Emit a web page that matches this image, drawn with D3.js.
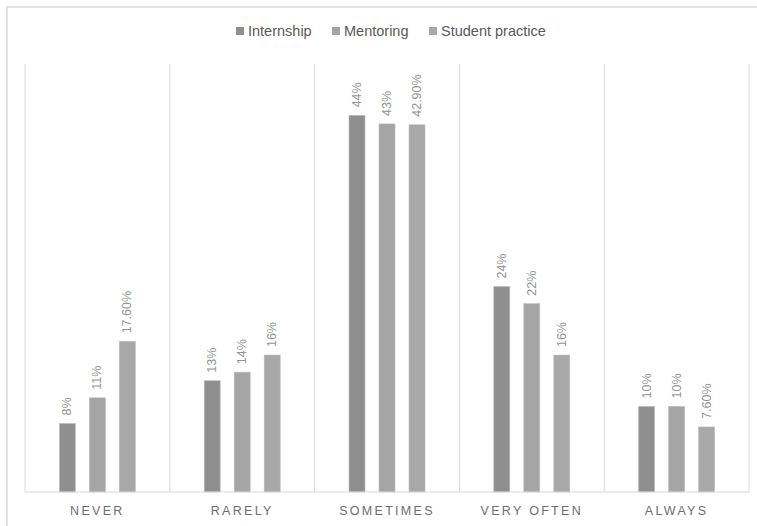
<!DOCTYPE html>
<html>
<head>
<meta charset="utf-8">
<script src="https://cdn.jsdelivr.net/npm/d3@7"></script>
<style>
  html, body { margin: 0; padding: 0; background: #fff; }
  svg { display: block; }
</style>
</head>
<body>
<svg id="chart" width="757" height="526"></svg>
<script>
// Frequency categories (x axis)
const categories = ["NEVER", "RARELY", "SOMETIMES", "VERY OFTEN", "ALWAYS"];
// Series names, in legend order
const seriesNames = ["Internship", "Mentoring", "Student practice"];
// Percent values per series, one per category
const internship = [8, 13, 44, 24, 10];
const mentoring = [11, 14, 43, 22, 10];
const studentPractice = [17.6, 16, 42.9, 16, 7.6];
const seriesColors = ["#8f8f8f", "#a5a5a5", "#a8a8a8"];

const seriesValues = [internship, mentoring, studentPractice];

const svg = d3.select("#chart");
const W = 757, H = 526;
const plot = { left: 25, right: 749, top: 64, bottom: 492 };

// Outer chart frame
svg.append("rect")
  .attr("x", 7).attr("y", 7)
  .attr("width", W + 10).attr("height", H + 10)
  .attr("fill", "#fff")
  .attr("stroke", "#d9d9d9")
  .attr("stroke-width", 1.5);

const x0 = d3.scaleBand().domain(categories).range([plot.left, plot.right]).padding(0);
const x1 = d3.scaleBand().domain(seriesNames).range([0, 76]).paddingInner(14 / 30).paddingOuter(0);
const y = d3.scaleLinear().domain([0, 50]).range([plot.bottom, plot.top]);

// Vertical separators between categories
const bounds = categories.map(c => x0(c)).concat([x0(categories[categories.length - 1]) + x0.bandwidth()]);
svg.append("g").selectAll("line").data(bounds).join("line")
  .attr("x1", d => d).attr("x2", d => d)
  .attr("y1", plot.top).attr("y2", plot.bottom)
  .attr("stroke", "#d9d9d9").attr("stroke-width", 1);

// Bars
const fmt = v => Number.isInteger(v) ? v + "%" : v.toFixed(2) + "%";
const groups = svg.append("g").selectAll("g").data(categories).join("g")
  .attr("transform", c => `translate(${x0(c) + x0.bandwidth() / 2 - 38},0)`);

const items = groups.selectAll("g.item")
  .data((c, i) => seriesNames.map((s, j) => ({ s, j, v: seriesValues[j][i] })))
  .join("g").attr("class", "item");

items.append("rect")
  .attr("x", d => x1(d.s))
  .attr("y", d => y(d.v))
  .attr("width", x1.bandwidth())
  .attr("height", d => y(0) - y(d.v))
  .attr("fill", d => seriesColors[d.j])
  .attr("stroke", "#bdbdbd").attr("stroke-width", 0.6);

items.append("text")
  .attr("transform", d => `translate(${x1(d.s) + x1.bandwidth() / 2},${y(d.v) - 8}) rotate(-90)`)
  .attr("dominant-baseline", "central")
  .attr("text-anchor", "start")
  .attr("font-family", "Liberation Sans, Arial, sans-serif")
  .attr("font-size", 12.5)
  .attr("fill", "#939393")
  .text(d => fmt(d.v));

// Baseline axis
svg.append("line")
  .attr("x1", plot.left).attr("x2", plot.right)
  .attr("y1", plot.bottom).attr("y2", plot.bottom)
  .attr("stroke", "#d9d9d9").attr("stroke-width", 1);

// Category labels
const xAxis = svg.append("g")
  .attr("transform", `translate(0,${plot.bottom})`)
  .call(d3.axisBottom(x0).tickSize(0).tickPadding(14));
xAxis.select(".domain").remove();
xAxis.selectAll("text")
  .attr("font-family", "Liberation Sans, Arial, sans-serif")
  .attr("font-size", 12.5)
  .attr("letter-spacing", "2.3px")
  .attr("fill", "#6e6e6e")
  .attr("dy", "0.71em");

// Legend
const legendX = [236, 332, 429];
const legend = svg.append("g").selectAll("g").data(seriesNames).join("g")
  .attr("transform", (d, i) => `translate(${legendX[i]},31)`);
legend.append("rect")
  .attr("x", 0).attr("y", -4).attr("width", 8).attr("height", 8)
  .attr("fill", (d, i) => seriesColors[i]);
legend.append("text")
  .attr("x", 12).attr("y", 0)
  .attr("dominant-baseline", "central")
  .attr("font-family", "Liberation Sans, Arial, sans-serif")
  .attr("font-size", 14.5)
  .attr("fill", "#595959")
  .text(d => d);
</script>
</body>
</html>
